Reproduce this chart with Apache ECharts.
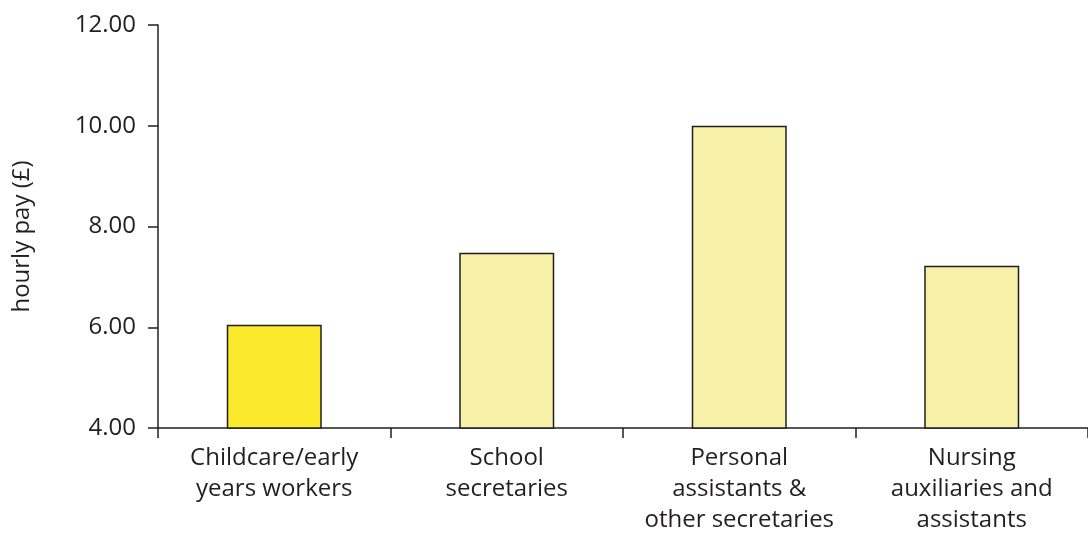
<!DOCTYPE html>
<html><head><meta charset="utf-8">
<script src="https://cdn.jsdelivr.net/npm/echarts@6/dist/echarts.min.js"></script>
<style>html,body{margin:0;padding:0;background:#fff}#c{width:1088px;height:536px}</style>
</head><body><div id="c"></div>
<script>
const categories = ["Childcare/early\nyears workers", "School\nsecretaries", "Personal\nassistants &\nother secretaries", "Nursing\nauxiliaries and\nassistants"];
const hourlyPay = [6.05, 7.48, 10.0, 7.22];
const barColors = ["#fbe92b", "#f7f0a8", "#f7f0a8", "#f7f0a8"];
const yAxisName = "hourly pay (£)";

const ink = "#231f20";
const font = "Open Sans";
const chart = echarts.init(document.getElementById('c'));
chart.setOption({
  animation: false,
  grid: { left: 158, top: 25, width: 940, height: 407, containLabel: false },
  xAxis: {
    type: 'category', data: categories,
    axisLine: { lineStyle: { color: ink, width: 1.5 } },
    axisTick: { show: true, length: 10, inside: false, lineStyle: { color: ink, width: 1.5 } },
    axisLabel: { color: ink, fontSize: 24, fontFamily: font, lineHeight: 31, margin: 15, interval: 0 }
  },
  yAxis: {
    type: 'value', min: 4, max: 12, interval: 2,
    name: yAxisName, nameLocation: 'middle', nameRotate: 90, nameGap: 124,
    nameTextStyle: { color: ink, fontSize: 24, fontFamily: font, padding: [0, 20, 0, 0] },
    axisLine: { show: true, lineStyle: { color: ink, width: 1.5 } },
    axisTick: { show: true, length: 10, lineStyle: { color: ink, width: 1.5 } },
    axisLabel: { color: ink, fontSize: 24, fontFamily: font, margin: 22, formatter: v => v.toFixed(2) },
    splitLine: { show: false }
  },
  series: [{
    type: 'bar', barWidth: 95,
    data: hourlyPay.map((v, i) => ({ value: v, itemStyle: { color: barColors[i] } })),
    itemStyle: { borderColor: ink, borderWidth: 1.5 }
  }]
});
</script></body></html>
